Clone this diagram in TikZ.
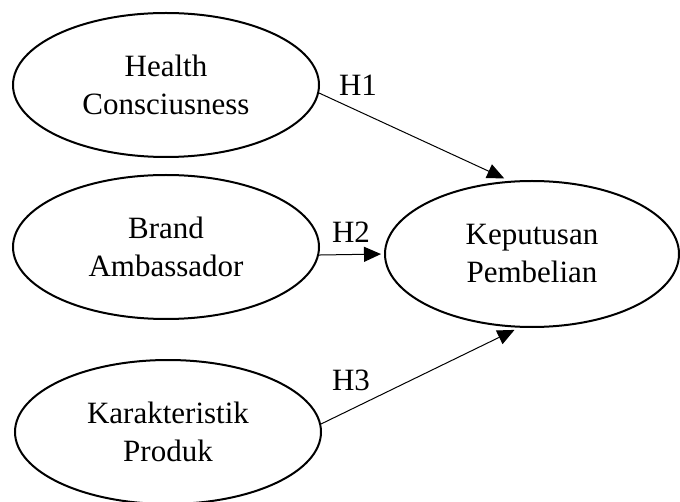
\documentclass[tikz,border=0pt]{standalone}
\usepackage{fontspec}
\setmainfont{Liberation Serif}
\usetikzlibrary{shapes.geometric,arrows.meta}
\begin{document}
\begin{tikzpicture}[x=0.5pt,y=-0.5pt,
	var/.style={draw,ellipse,line width=1pt,inner sep=0pt,
		minimum width=153pt,minimum height=72pt,align=center,
		font=\fontsize{15.5}{19}\selectfont},
	path/.style={line width=0.5pt,-{Triangle[length=8.5pt,width=7.5pt]}},
	hlabel/.style={font=\fontsize{15.5}{19}\selectfont}]
\useasboundingbox (0,0) rectangle (680,502);
\node[var] (hc) at (166,85) {Health\\Consciusness};
\node[var] (ba) at (166,247) {Brand\\Ambassador};
\node[var] (kr) at (168,432) {Karakteristik\\Produk};
\node[var,minimum width=147pt,minimum height=73pt] (kp) at (532,254) {Keputusan\\Pembelian};

\draw[path,shorten >=3pt] (hc.-3) -- (kp.107);
\draw[path,shorten >=1.5pt] (ba.-3) -- (kp.west);
\draw[path,shorten >=2.5pt] (kr.3) -- (kp.-100);

\node[hlabel] (h1) at (358,85) {H1};
\node[hlabel] (h2) at (351,232) {H2};
\node[hlabel] (h3) at (351,380) {H3};
\end{tikzpicture}
\end{document}
